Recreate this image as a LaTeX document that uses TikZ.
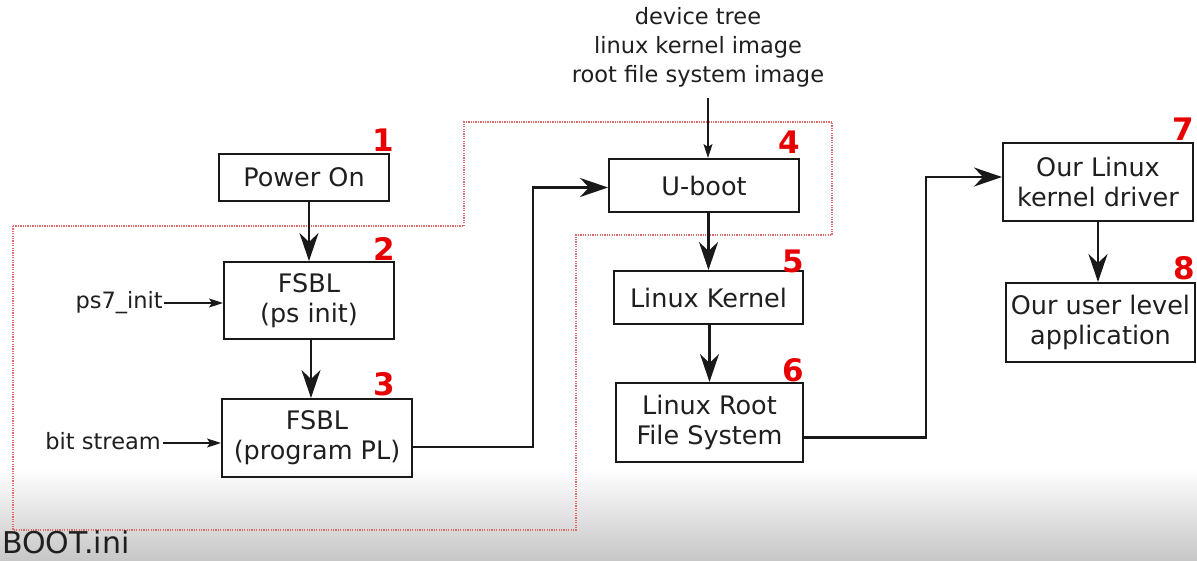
\documentclass[tikz,border=0pt]{standalone}
\usepackage{fontspec}
\setmainfont{DejaVu Sans}
\usetikzlibrary{arrows.meta,calc}
\definecolor{numred}{HTML}{E80000}
\definecolor{dotred}{HTML}{E06A6A}
\tikzset{
  box/.style={draw=black!90, line width=2pt, align=center, inner sep=0pt,
    font=\fontsize{25.5}{30}\selectfont, text=black!88},
  num/.style={font=\fontsize{31}{31}\bfseries\selectfont, text=numred, inner sep=0pt},
  lbl/.style={font=\fontsize{22.5}{29}\selectfont, text=black!88, inner sep=0pt, align=center},
  arr/.style={draw=black!90, line width=2.4pt, -{Stealth[length=28pt,width=19pt,inset=9pt]}},
  thinarr/.style={draw=black!90, line width=1.2pt, -{Stealth[length=14pt,width=9pt,inset=3pt]}},
  bootline/.style={draw=dotred, line width=1.3pt, dash pattern=on 1.3pt off 1.1pt}
}
\begin{document}
\begin{tikzpicture}[x=1pt,y=-1pt]
\useasboundingbox (0,0) rectangle (1197,560);
\fill[white] (0,0) rectangle (1197,560);
\shade[top color=white, bottom color=black!22] (0,468) rectangle (1197,560);

% boot region
\draw[bootline] (13,226) -- (464,226) -- (464,122) -- (832,122) -- (832,235)
  -- (576,235) -- (576,530) -- (13,530) -- cycle;

% boxes
\node[box, minimum width=170pt, minimum height=47pt] (n1) at (304,177.5) {Power On};
\node[box, minimum width=170pt, minimum height=77pt] (n2) at (309,300.5) {FSBL\\(ps init)};
\node[box, minimum width=190pt, minimum height=78pt] (n3) at (317,438) {FSBL\\(program PL)};
\node[box, minimum width=190pt, minimum height=53pt] (n4) at (704,185.5) {U-boot};
\node[box, minimum width=189pt, minimum height=53pt] (n5) at (708.5,297.5) {Linux Kernel};
\node[box, minimum width=187pt, minimum height=79pt] (n6) at (709.5,422.5) {Linux Root\\File System};
\node[box, minimum width=190pt, minimum height=78pt] (n7) at (1098,182) {Our Linux\\kernel driver};
\node[box, minimum width=189pt, minimum height=79pt] (n8) at (1100.5,322.5) {Our user level\\application};

% numbers
\node[num] (k1) at (383,140) {1};
\node[num] (k2) at (384,249) {2};
\node[num] (k3) at (384,384) {3};
\node[num] (k4) at (789,142) {4};
\node[num] (k5) at (793,261) {5};
\node[num] (k6) at (793,370) {6};
\node[num] (k7) at (1183,129) {7};
\node[num] (k8) at (1184,268) {8};

% input labels
\node[lbl, anchor=east] (ps7) at (163,303) {ps7\_init};
\node[lbl, anchor=east] (bits) at (161,441) {bit stream};
\node[lbl] (imgs) at (698,47) {device tree\\linux kernel image\\root file system image};
\coordinate (tin) at (708,98);

% connectors
\draw[arr] (n2.north |- n1.south) -- (n2.north);
\draw[arr] ([xshift=2pt]n2.south) -- ([xshift=2pt]n2.south |- n3.north);
\draw[arr] ([yshift=-9pt]n3.east) -- ++(120,0) |- ([yshift=-2pt]n4.west);
\draw[arr] (n5.north |- n4.south) -- (n5.north);
\draw[arr] (n6.north |- n5.south) -- (n6.north);
\draw[arr] ([yshift=-15pt]n6.east) -- ++(122,0) |- ([yshift=5pt]n7.west);
\draw[arr] (n7.south) -- (n7.south |- n8.north);

\draw[thinarr] ([xshift=1pt]ps7.east) -- (n2.west |- ps7.east);
\draw[thinarr] ([xshift=2pt,yshift=-2pt]bits.east) -- (n3.west |- 0,443);
\draw[thinarr] (tin) -- (tin |- n4.north);

\node[font=\fontsize{30}{30}\selectfont, text=black!88, inner sep=0pt, anchor=base west] (boot) at (2,553) {BOOT.ini};
\end{tikzpicture}
\end{document}
